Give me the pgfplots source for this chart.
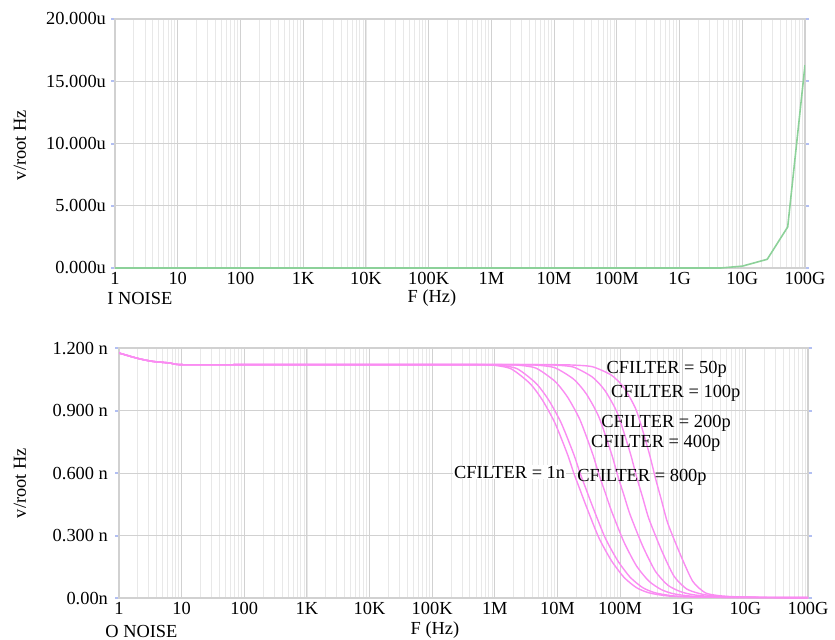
\documentclass[border=0pt]{standalone}
\usepackage{fontspec}
\setmainfont{Liberation Serif}
\usepackage{pgfplots}
\pgfplotsset{compat=1.18}
\definecolor{gridc}{rgb}{0.82,0.82,0.82}
\definecolor{mgridc}{rgb}{0.91,0.91,0.91}
\definecolor{grn}{rgb}{0.55,0.82,0.60}
\definecolor{pnk}{rgb}{0.98,0.55,0.95}
\definecolor{tickb}{rgb}{0.70,0.75,0.95}
\newcommand{\lf}{\fontsize{9.2}{11}\selectfont}
\begin{document}
\begin{tikzpicture}
\useasboundingbox (0,0) rectangle (417.5pt,-319.5pt);
% ---------------- top: I NOISE
\begin{axis}[scale only axis, width=345pt, height=124.5pt,
   xmode=log, xmin=1, xmax=1e11,
   xtick={1,10,100,1000,1e4,1e5,1e6,1e7,1e8,1e9,1e10,1e11},
   xticklabels={1,10,100,1K,10K,100K,1M,10M,100M,1G,10G,100G},
   grid=both,
   major grid style={gridc, line width=0.5pt},
   minor grid style={mgridc, line width=0.4pt},
   axis line style={gridc, line width=0.8pt},
   tick label style={font=\lf, text=black},
   xtick style={draw=none},
   ytick style={tickb, line width=1pt},
   major tick length=2pt, minor tick length=0pt, tick align=outside,
   xticklabel style={yshift=3.5pt},
   yticklabel style={xshift=1pt},
  at={(57.5pt,-134pt)}, anchor=south west,
  ymin=0, ymax=20, ytick={0,5,10,15,20},
  yticklabels={0.000u,5.000u,10.000u,15.000u,20.000u}]
\addplot[grn, line width=0.8pt] coordinates {(1,0)(4.5e9,0)(1e10,0.15)(2.5e10,0.7)(5.3e10,3.3)(1e11,16.3)};
\end{axis}
% ---------------- bottom: O NOISE
\begin{axis}[scale only axis, width=344.5pt, height=125pt,
   xmode=log, xmin=1, xmax=1e11,
   xtick={1,10,100,1000,1e4,1e5,1e6,1e7,1e8,1e9,1e10,1e11},
   xticklabels={1,10,100,1K,10K,100K,1M,10M,100M,1G,10G,100G},
   grid=both,
   major grid style={gridc, line width=0.5pt},
   minor grid style={mgridc, line width=0.4pt},
   axis line style={gridc, line width=0.8pt},
   tick label style={font=\lf, text=black},
   xtick style={draw=none},
   ytick style={tickb, line width=1pt},
   major tick length=2pt, minor tick length=0pt, tick align=outside,
   xticklabel style={yshift=3.5pt},
   yticklabel style={xshift=0pt},
  at={(59.5pt,-299pt)}, anchor=south west,
  ymin=0, ymax=1.2, ytick={0,0.3,0.6,0.9,1.2},
  yticklabels={0.00n,0.300 n,0.600 n,0.900 n,1.200 n}]
% CFILTER = 1n
\addplot[pnk, line width=0.7pt, smooth, tension=0.4] coordinates {(1,1.176)(2,1.15)(3.4,1.136)(6.5,1.128)(10,1.12)(100,1.12)(1e3,1.12)(1e4,1.12)(1e5,1.12)(4.571e5,1.12)(9.120e5,1.118)(1.820e6,1.10)(3.631e6,1.03)(5.754e6,0.95)(9.120e6,0.84)(1.445e7,0.69)(1.820e7,0.60)(2.291e7,0.52)(2.884e7,0.44)(4.571e7,0.29)(7.244e7,0.18)(1.148e8,0.10)(1.820e8,0.05)(2.884e8,0.025)(5.754e8,0.01)(1.820e9,0.004)(1e11,0.002)};
% CFILTER = 800p
\addplot[pnk, line width=0.7pt, smooth, tension=0.4] coordinates {(1,1.176)(2,1.15)(3.4,1.136)(6.5,1.128)(10,1.12)(100,1.12)(1e3,1.12)(1e4,1.12)(1e5,1.12)(5.754e5,1.12)(1.148e6,1.118)(2.291e6,1.10)(4.571e6,1.03)(7.244e6,0.95)(1.148e7,0.84)(1.820e7,0.69)(2.291e7,0.60)(2.884e7,0.52)(3.631e7,0.44)(5.754e7,0.29)(9.120e7,0.18)(1.445e8,0.10)(2.291e8,0.05)(3.631e8,0.025)(7.244e8,0.01)(2.291e9,0.004)(1e11,0.002)};
% CFILTER = 400p
\addplot[pnk, line width=0.7pt, smooth, tension=0.4] coordinates {(1,1.176)(2,1.15)(3.4,1.136)(6.5,1.128)(10,1.12)(100,1.12)(1e3,1.12)(1e4,1.12)(1e5,1.12)(1.148e6,1.12)(2.291e6,1.118)(4.571e6,1.103)(9.120e6,1.04)(1.445e7,0.965)(2.291e7,0.855)(3.631e7,0.693)(4.571e7,0.595)(5.754e7,0.508)(7.244e7,0.42)(1.148e8,0.27)(1.820e8,0.155)(2.884e8,0.081)(4.571e8,0.04)(7.244e8,0.02)(1.445e9,0.0085)(4.571e9,0.0035)(1e11,0.002)};
% CFILTER = 200p
\addplot[pnk, line width=0.7pt, smooth, tension=0.4] coordinates {(1,1.176)(2,1.15)(3.4,1.136)(6.5,1.128)(10,1.12)(100,1.12)(1e3,1.12)(1e4,1.12)(1e5,1.12)(1e6,1.12)(2.291e6,1.12)(4.571e6,1.118)(9.120e6,1.105)(1.820e7,1.05)(2.884e7,0.98)(4.571e7,0.87)(7.244e7,0.695)(9.120e7,0.59)(1.148e8,0.495)(1.445e8,0.40)(2.291e8,0.25)(3.631e8,0.13)(5.754e8,0.062)(9.120e8,0.031)(1.445e9,0.016)(2.884e9,0.007)(9.120e9,0.003)(1e11,0.002)};
% CFILTER = 100p
\addplot[pnk, line width=0.7pt, smooth, tension=0.4] coordinates {(1,1.176)(2,1.15)(3.4,1.136)(6.5,1.128)(10,1.12)(100,1.12)(1e3,1.12)(1e4,1.12)(1e5,1.12)(1e6,1.12)(4.571e6,1.12)(9.120e6,1.118)(1.820e7,1.108)(3.631e7,1.06)(5.754e7,0.995)(9.120e7,0.885)(1.445e8,0.698)(1.820e8,0.585)(2.291e8,0.483)(2.884e8,0.38)(4.571e8,0.23)(7.244e8,0.105)(1.148e9,0.044)(1.820e9,0.022)(2.884e9,0.011)(5.754e9,0.0055)(1.820e10,0.0025)(1e11,0.002)};
% CFILTER = 50p
\addplot[pnk, line width=0.7pt, smooth, tension=0.4] coordinates {(1,1.176)(2,1.15)(3.4,1.136)(6.5,1.128)(10,1.12)(100,1.12)(1e3,1.12)(1e4,1.12)(1e5,1.12)(1e6,1.12)(9.120e6,1.12)(1.820e7,1.118)(3.631e7,1.11)(7.244e7,1.07)(1.148e8,1.01)(1.820e8,0.90)(2.884e8,0.70)(3.631e8,0.58)(4.571e8,0.47)(5.754e8,0.36)(9.120e8,0.21)(1.445e9,0.08)(2.291e9,0.025)(3.631e9,0.012)(5.754e9,0.007)(1.148e10,0.004)(3.631e10,0.002)(1e11,0.002)};
\node[font=\lf, inner sep=0.5pt] at (rel axis cs:0.795,0.916) {CFILTER = 50p};
\node[font=\lf, inner sep=0.5pt] at (rel axis cs:0.808,0.820) {CFILTER = 100p};
\node[font=\lf, inner sep=0.5pt] at (rel axis cs:0.794,0.700) {CFILTER = 200p};
\node[font=\lf, inner sep=0.5pt] at (rel axis cs:0.779,0.620) {CFILTER = 400p};
\node[font=\lf, inner sep=0.5pt] at (rel axis cs:0.759,0.484) {CFILTER = 800p};
\node[font=\lf, inner sep=0.5pt, fill=white] at (rel axis cs:0.567,0.504) {CFILTER = 1n};
\end{axis}
% ---------------- outer labels
\node[font=\lf, rotate=90] at (10pt,-72.5pt) {v/root Hz};
\node[font=\lf, rotate=90] at (10pt,-241.5pt) {v/root Hz};
\node[font=\lf, anchor=west, inner sep=0pt] at (53.5pt,-149pt) {I NOISE};
\node[font=\lf] at (216pt,-149pt) {F (Hz)};
\node[font=\lf, anchor=west, inner sep=0pt] at (52.5pt,-315.5pt) {O NOISE};
\node[font=\lf] at (217.5pt,-315pt) {F (Hz)};
\end{tikzpicture}
\end{document}
